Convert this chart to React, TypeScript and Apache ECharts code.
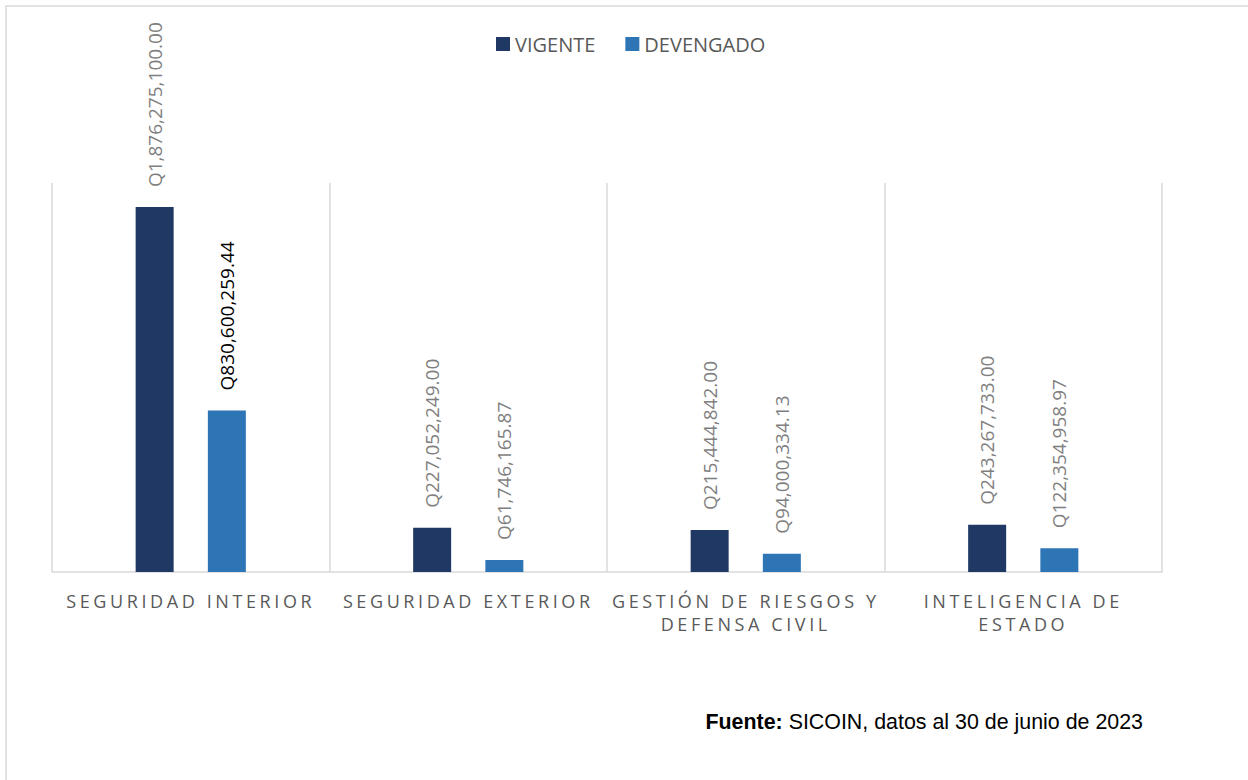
import React, { useEffect, useRef } from "react";
import * as echarts from "echarts";

const categories = [
  "SEGURIDAD INTERIOR",
  "SEGURIDAD EXTERIOR",
  "GESTIÓN DE RIESGOS Y DEFENSA CIVIL",
  "INTELIGENCIA DE ESTADO",
];
const vigente = [1876275100.0, 227052249.0, 215444842.0, 243267733.0];
const devengado = [830600259.44, 61746165.87, 94000334.13, 122354958.97];
const seriesNames = ["VIGENTE", "DEVENGADO"];
const sourceBold = "Fuente:";
const sourceText = " SICOIN, datos al 30 de junio de 2023";

const fmtQ = (v: number) =>
  "Q" +
  v.toLocaleString("en-US", { minimumFractionDigits: 2, maximumFractionDigits: 2 });

const wrap = (s: string, max = 20) => {
  const words = s.split(" ");
  const lines: string[] = [];
  let cur = "";
  for (const w of words) {
    const cand = cur ? cur + " " + w : w;
    if (cand.length > max && cur) {
      lines.push(cur);
      cur = w;
    } else cur = cand;
  }
  if (cur) lines.push(cur);
  return lines.join("\n");
};

const catLines = new Set<string>();
categories.forEach((c) => wrap(c).split("\n").forEach((l) => catLines.add(l)));

export default function App() {
  const ref = useRef<HTMLDivElement>(null);
  useEffect(() => {
    if (!ref.current) return;
    const chart = echarts.init(ref.current, undefined, { renderer: "svg" });
    const labelBase = {
      show: true,
      position: "top" as const,
      rotate: 90,
      align: "left" as const,
      verticalAlign: "middle" as const,
      distance: 20,
      fontFamily: "Open Sans",
      fontSize: 19,
      color: "#7f7f7f",
      formatter: (p: any) => fmtQ(p.value),
    };
    chart.setOption({
      animation: false,
      backgroundColor: "#ffffff",
      legend: {
        data: seriesNames,
        left: 496,
        top: 34,
        padding: 0,
        icon: "rect",
        itemWidth: 14,
        itemHeight: 14,
        itemGap: 30,
        textStyle: { fontFamily: "Open Sans", fontSize: 20, color: "#595959" },
      },
      grid: { left: 52, right: 86, top: 183, bottom: 208, containLabel: false },
      xAxis: {
        type: "category",
        data: categories,
        axisLine: { show: true, lineStyle: { color: "#d9d9d9", width: 1.5 } },
        axisTick: { show: false },
        splitLine: { show: true, lineStyle: { color: "#d9d9d9", width: 1.5 } },
        axisLabel: {
          interval: 0,
          margin: 17,
          fontFamily: "Open Sans",
          fontSize: 18,
          lineHeight: 23.5,
          color: "#595959",
          formatter: (v: string) => wrap(v),
        },
      },
      yAxis: { type: "value", min: 0, max: 2000000000, show: false, splitLine: { show: false } },
      series: [
        {
          name: seriesNames[0],
          type: "bar",
          barWidth: 38,
          barGap: "90%",
          itemStyle: { color: "#203864" },
          label: labelBase,
          data: vigente.map((v) => ({ value: v })),
        },
        {
          name: seriesNames[1],
          type: "bar",
          barWidth: 38,
          barGap: "90%",
          itemStyle: { color: "#2e75b6" },
          label: labelBase,
          data: devengado.map((v, i) =>
            i === 0 ? { value: v, label: { color: "#000000" } } : { value: v }
          ),
        },
      ],
      graphic: [
        {
          type: "rect",
          silent: true,
          shape: { x: 6, y: 6, width: 1400, height: 1000 },
          style: { fill: "none", stroke: "#d9d9d9", lineWidth: 1.5 },
        },
        {
          type: "text",
          x: 1143,
          y: 722,
          style: {
            text: "{b|" + sourceBold + "}{r|" + sourceText + "}",
            align: "right",
            verticalAlign: "middle",
            rich: {
              b: { fontFamily: "Liberation Sans", fontSize: 21.4, fontWeight: "bold", fill: "#000" },
              r: { fontFamily: "Liberation Sans", fontSize: 21.4, fill: "#000" },
            },
          },
        },
      ],
    });
    const spacing = () => {
      if (!ref.current) return;
      ref.current.querySelectorAll("text").forEach((t) => {
        const s = (t.textContent || "").trim();
        if (catLines.has(s)) {
          (t as SVGTextElement).style.letterSpacing = "3.6px";
        }
      });
    };
    spacing();
    chart.on("finished", spacing);
    return () => chart.dispose();
  }, []);
  return (
    <div
      ref={ref}
      style={{ position: "absolute", left: 0, top: 0, width: 1248, height: 780 }}
    />
  );
}
